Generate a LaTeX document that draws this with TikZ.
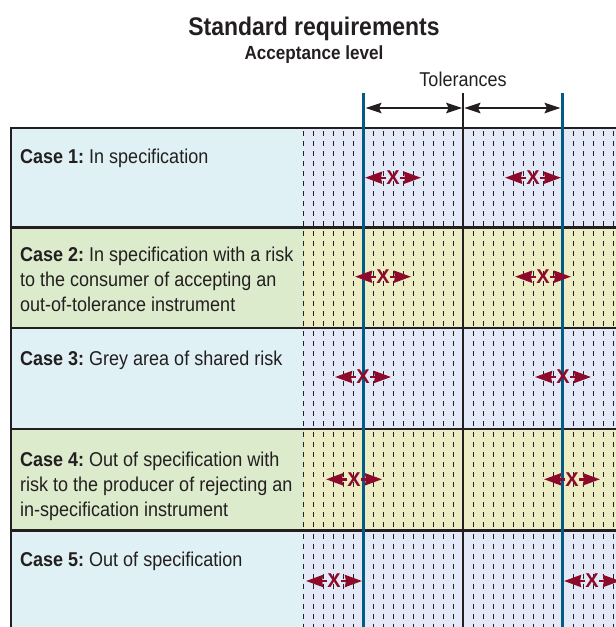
\documentclass[tikz,border=0pt]{standalone}
\usepackage{fontspec}
\setmainfont{Liberation Sans}[FakeStretch=0.9]
\newfontfamily\markfont{Liberation Sans}
\usetikzlibrary{arrows.meta}

\definecolor{casecyan}{HTML}{DFF1F4}
\definecolor{casegreen}{HTML}{DDEBCD}
\definecolor{bandblue}{HTML}{E3E9F6}
\definecolor{bandyellow}{HTML}{EDEDC5}
\definecolor{limitblue}{HTML}{045C85}
\definecolor{riskred}{HTML}{8E0A2B}
\definecolor{ink}{HTML}{231F20}

\newcommand{\casehead}[1]{\textbf{Case #1:}\hspace{5pt}}

\tikzset{
  casetext/.style={anchor=base west, align=left, inner sep=0pt, text=ink,
    font=\fontsize{20}{25}\selectfont},
  riskmark/.style={inner sep=0pt, text=riskred, font=\markfont\bfseries\fontsize{20}{20}\selectfont},
  riskarrow/.style={draw=riskred, line width=2.4pt,
    -{Stealth[length=17pt,width=12pt,inset=1pt]}},
  tolarrow/.style={draw=ink, line width=1.7pt,
    {Stealth[length=16pt,width=10.5pt,inset=2.5pt]}-{Stealth[length=16pt,width=10.5pt,inset=2.5pt]}},
  dashline/.style={draw=ink, line width=1.1pt, dash pattern=on 5pt off 5pt},
  rowline/.style={draw=ink, line width=2.2pt},
}

\begin{document}
\begin{tikzpicture}[x=1pt,y=-1pt]
  \useasboundingbox (0,0) rectangle (616,627);
  \clip (0,0) rectangle (616,627);

  % rows: text cell and band with the dashed scale
  \foreach \ya/\yb/\lc/\rc in {128/227.5/casecyan/bandblue, 227.5/328/casegreen/bandyellow,
      328/429/casecyan/bandblue, 429/530.5/casegreen/bandyellow, 530.5/627/casecyan/bandblue}{
    \fill[\lc] (11,\ya) rectangle (303.5,\yb);
    \fill[\rc] (303.5,\ya) rectangle (616,\yb);
    \foreach \x in {303.5,313.5,...,613.5}
      \path[dashline] (\x,\ya+3) -- (\x,\yb);
  }
  \foreach \y in {128,227.5,328,429,530.5}
    \path[rowline] (11,\y) -- (616,\y);
  \path[draw=ink, line width=2pt] (11,127) -- (11,627);

  \node[anchor=base, text=ink, font=\fontsize{25.5}{30}\selectfont\bfseries] (title) at (314,35) {Standard requirements};
  \node[anchor=base, text=ink, font=\fontsize{19}{20}\selectfont\bfseries] (level) at (314,59.3) {Acceptance level};
  \node[anchor=base, text=ink, font=\fontsize{20}{20}\selectfont] (tol) at (463,86.7) {Tolerances};

  % acceptance limits and nominal value
  \path[draw=limitblue, line width=3.5pt] (363.5,93) -- (363.5,627);
  \path[draw=limitblue, line width=3.5pt] (562.5,93) -- (562.5,627);
  \path[draw=ink, line width=1.8pt] (463.3,93) -- (463.3,627);

  \coordinate (lowlim) at (365.5,108);
  \coordinate (nominal) at (462.2,108);
  \coordinate (nominal2) at (464.4,108);
  \coordinate (uplim) at (560.5,108);
  \path[tolarrow] (lowlim) -- (nominal);
  \path[tolarrow] (nominal2) -- (uplim);

  % multi-line cells sit on the baseline of their last line
  \node[casetext] (case1) at (20,163) {\casehead{1}In specification};
  \node[casetext] (case2) at (20,311.5) {\casehead{2}In specification with a risk\\
    to the consumer of accepting an\\out-of-tolerance instrument};
  \node[casetext] (case3) at (20,365) {\casehead{3}Grey area of shared risk};
  \node[casetext] (case4) at (20,516) {\casehead{4}Out of specification with\\
    risk to the producer of rejecting an\\in-specification instrument};
  \node[casetext] (case5) at (20,566.5) {\casehead{5}Out of specification};

  % measured value with its uncertainty, one pair per case
  \foreach \n/\y/\d in {1/177.7/70, 2/276.7/80, 3/377/100, 4/479.3/109, 5/581/129}{
    \node[riskmark] (lowx\n) at (463-\d,\y) {X};
    \node[riskmark] (upx\n) at (463+\d,\y) {X};
    \coordinate (lowx\n a) at (463-\d-28,\y);
    \coordinate (lowx\n b) at (463-\d+28,\y);
    \coordinate (upx\n a) at (463+\d-28,\y);
    \coordinate (upx\n b) at (463+\d+28,\y);
    \path[riskarrow] (lowx\n) -- (lowx\n a);
    \path[riskarrow] (lowx\n) -- (lowx\n b);
    \path[riskarrow] (upx\n) -- (upx\n a);
    \path[riskarrow] (upx\n) -- (upx\n b);
  }
\end{tikzpicture}
\end{document}
